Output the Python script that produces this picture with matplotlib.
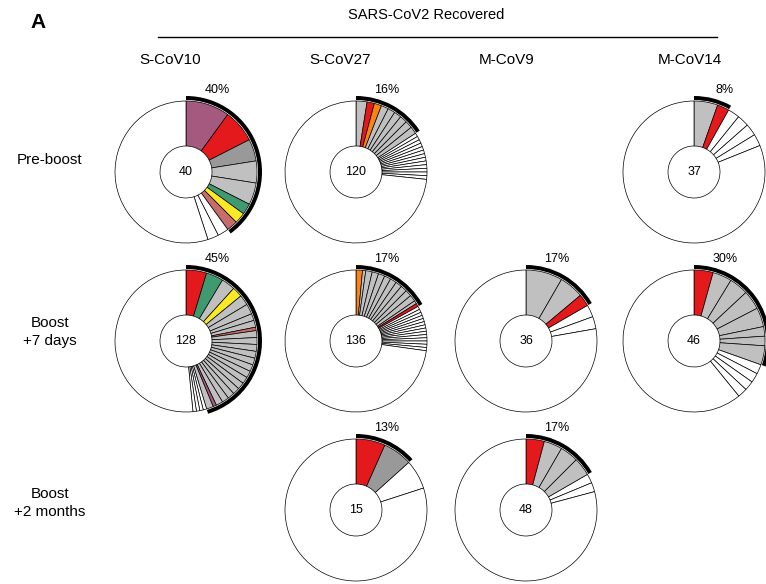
import matplotlib.pyplot as plt

plt.rcParams['font.family'] = ['Liberation Sans', 'DejaVu Sans']

W, H = 766, 584

donors = ['S-CoV10', 'S-CoV27', 'M-CoV9', 'M-CoV14']
timepoints = ['Pre-boost', 'Boost\n+7 days', 'Boost\n+2 months']

# one entry per pie: donor column, timepoint row, cells in the centre
pie_col = [0, 1, 3, 0, 1, 2, 3, 1, 2]
pie_row = [0, 0, 0, 1, 1, 1, 1, 2, 2]
pie_total = [40, 120, 37, 128, 136, 36, 46, 15, 48]

# expanded clones (cells per clone) and colour code of each
pie_clones = [
    [4, 3, 2, 2, 2, 1, 1, 1],
    [3, 2, 2, 2, 2, 2, 2, 2, 2],
    [2, 1],
    [6, 5, 4, 3, 3, 3, 2, 2, 1] + [2] * 13 + [1, 2],
    [2, 1] + [2] * 9 + [1, 1],
    [3, 2, 1],
    [2, 2, 2, 2, 2, 1, 1, 2],
    [1, 1],
    [2, 2, 2, 2],
]
pie_codes = [
    'PRDGGEYS',
    'GROGGGGGG',
    'GR',
    'REGYGGGGS' + 'G' * 13 + 'PG',
    'OG' + 'G' * 9 + 'GR',
    'GGR',
    'RGGGGGGG',
    'RD',
    'RGGG',
]
# thin white slices drawn after the expanded clones
pie_singles = [2, 13, 4, 4, 14, 2, 4, 1, 2]

palette = {
    'P': '#A6597F',
    'R': '#E3191C',
    'D': '#999999',
    'G': '#C0C0C0',
    'E': '#3F9A70',
    'Y': '#FCE925',
    'S': '#C86B6B',
    'O': '#FB8311',
}

col_x = [186, 356, 526, 694]
row_y = [172, 341, 510]
R, r = 71, 26

fig = plt.figure(figsize=(W / 100, H / 100), dpi=100)
ax = fig.add_axes([0, 0, 1, 1])

for i in range(len(pie_total)):
    cx = col_x[pie_col[i]]
    cy = H - row_y[pie_row[i]]
    clones = pie_clones[i]
    expanded = sum(clones)
    rest = pie_total[i] - expanded - pie_singles[i]
    sizes = clones + [1] * pie_singles[i] + [rest]
    colors = [palette[c] for c in pie_codes[i]] + ['white'] * (pie_singles[i] + 1)
    ax.pie(sizes, colors=colors, center=(cx, cy), radius=R, startangle=90,
           counterclock=False,
           wedgeprops=dict(width=R - r, edgecolor='black', linewidth=0.5))
    # thick arc marking the expanded fraction
    ax.pie([expanded, pie_total[i] - expanded], colors=['black', 'none'],
           center=(cx, cy), radius=R + 5, startangle=90, counterclock=False,
           wedgeprops=dict(width=4, linewidth=0))
    ax.text(cx, cy, str(pie_total[i]), ha='center', va='center', fontsize=9)
    ax.text(cx + 31, cy + 82, '%d%%' % round(100 * expanded / pie_total[i]),
            ha='center', va='center', fontsize=9)

for j, name in enumerate(donors):
    ax.text([170, 340, 507, 690][j], H - 60, name, ha='center', va='center',
            fontsize=11)
for k, name in enumerate(timepoints):
    ax.text(50, H - [160, 332, 503][k], name, ha='center', va='center',
            fontsize=11, linespacing=1.3)

ax.text(426, H - 15, 'SARS-CoV2 Recovered', ha='center', va='center',
        fontsize=10.5)
ax.plot([158, 717], [H - 37, H - 37], color='black', lw=1)
ax.text(38, H - 22, 'A', ha='center', va='center', fontsize=15,
        fontweight='bold')

ax.set_xlim(0, W)
ax.set_ylim(0, H)
ax.set_aspect('equal')
ax.axis('off')

fig.savefig('out.png', dpi=100)
